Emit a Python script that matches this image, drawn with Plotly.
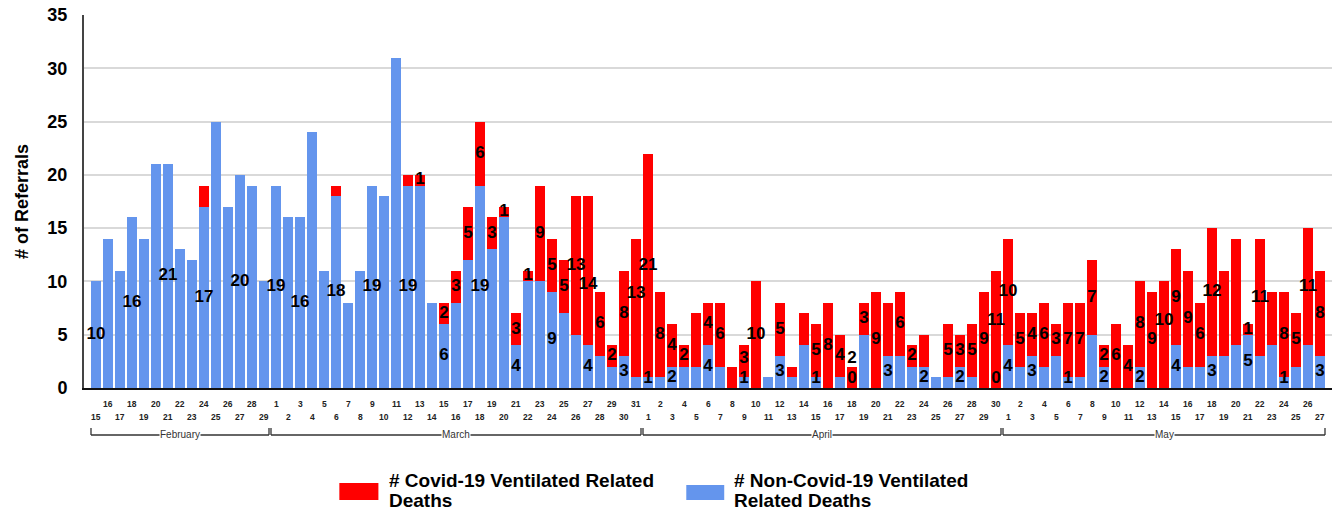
import plotly.graph_objects as go
import pandas as pd

# ---------------- data ----------------
start_date = "2020-02-15"
end_date = "2020-05-27"

feb_non = [10, 14, 11, 16, 14, 21, 21, 13, 12, 17, 25, 17, 20, 19, 10]
feb_cov = [0, 0, 0, 0, 0, 0, 0, 0, 0, 2, 0, 0, 0, 0, 0]
mar_non = [19, 16, 16, 24, 11, 18, 8, 11, 19, 18, 31, 19, 19, 8, 6, 8, 12, 19, 13, 16,
           4, 10, 10, 9, 7, 5, 4, 3, 2, 3, 1]
mar_cov = [0, 0, 0, 0, 0, 1, 0, 0, 0, 0, 0, 1, 1, 0, 2, 3, 5, 6, 3, 1,
           3, 1, 9, 5, 5, 13, 14, 6, 2, 8, 13]
apr_non = [1, 1, 2, 2, 2, 4, 2, 0, 1, 0, 1, 3, 1, 4, 1, 0, 1, 0, 5, 0,
           3, 3, 2, 2, 1, 1, 2, 1, 0, 0]
apr_cov = [21, 8, 4, 2, 5, 4, 6, 2, 3, 10, 0, 5, 1, 3, 5, 8, 4, 2, 3, 9,
           5, 6, 2, 3, 0, 5, 3, 5, 9, 11]
may_non = [4, 2, 3, 2, 3, 1, 1, 5, 2, 0, 0, 2, 0, 0, 4, 2, 2, 3, 3, 4,
           5, 3, 4, 1, 2, 4, 3]
may_cov = [10, 5, 4, 6, 3, 7, 7, 7, 2, 6, 4, 8, 9, 10, 9, 9, 6, 12, 8, 10,
           1, 11, 5, 8, 5, 11, 8]

non_covid = feb_non + mar_non + apr_non + may_non
covid = feb_cov + mar_cov + apr_cov + may_cov

# days whose segment carries a value label (month, day)
blue_label_days = [(2, 15), (2, 18), (2, 21), (2, 24), (2, 27),
                   (3, 1), (3, 3), (3, 6), (3, 9), (3, 12), (3, 15), (3, 18), (3, 21),
                   (3, 24), (3, 27), (3, 30),
                   (4, 1), (4, 3), (4, 6), (4, 9), (4, 12), (4, 15), (4, 18), (4, 21),
                   (4, 24), (4, 27), (4, 30),
                   (5, 1), (5, 3), (5, 6), (5, 9), (5, 12), (5, 15), (5, 18), (5, 21),
                   (5, 24), (5, 27)]
red_label_days = [(3, 13), (3, 15), (3, 16), (3, 17), (3, 18), (3, 19), (3, 20), (3, 21),
                  (3, 22), (3, 23), (3, 24), (3, 25), (3, 26), (3, 27), (3, 28), (3, 29),
                  (3, 30), (3, 31),
                  (4, 1), (4, 2), (4, 3), (4, 4), (4, 6), (4, 7), (4, 9), (4, 10), (4, 12),
                  (4, 15), (4, 16), (4, 17), (4, 18), (4, 19), (4, 20), (4, 22), (4, 23),
                  (4, 26), (4, 27), (4, 28), (4, 29), (4, 30),
                  (5, 1), (5, 2), (5, 3), (5, 4), (5, 5), (5, 6), (5, 7), (5, 8), (5, 9),
                  (5, 10), (5, 11), (5, 12), (5, 13), (5, 14), (5, 15), (5, 16), (5, 17),
                  (5, 18), (5, 21), (5, 22), (5, 24), (5, 25), (5, 26), (5, 27)]

month_names = {2: "February", 3: "March", 4: "April", 5: "May"}
name_covid = "# Covid-19 Ventilated Related Deaths"
name_non = "# Non-Covid-19 Ventilated Related Deaths"

# ---------------- figure ----------------
dates = pd.date_range(start_date, end_date, freq="D")
BLUE = "#6495ED"
RED = "#FF0000"
FONT = "Liberation Sans"

fig = go.Figure()
fig.add_trace(go.Bar(x=dates, y=non_covid, name=name_non, marker_color=BLUE,
                     marker_line_width=0, showlegend=False))
fig.add_trace(go.Bar(x=dates, y=covid, name=name_covid, marker_color=RED,
                     marker_line_width=0, showlegend=False))

# value labels: centred on their segment, nudged so they stay readable
MIN_LABEL_Y = 0.9
LABEL_GAP = 1.8
blue_set = set(blue_label_days)
red_set = set(red_label_days)
bx, by, bt, rx, ry, rt = [], [], [], [], [], []
prev_red = None  # (index, y, text)
for i, (d, nv, cv) in enumerate(zip(dates, non_covid, covid)):
    key = (d.month, d.day)
    blue_y = None
    if key in blue_set:
        blue_y = max(nv / 2, MIN_LABEL_Y)
        bx.append(d); by.append(blue_y); bt.append(str(nv))
    if key in red_set:
        red_y = nv + cv / 2
        if blue_y is not None:
            red_y = max(red_y, blue_y + LABEL_GAP)
        txt = str(cv)
        if prev_red is not None and prev_red[0] == i - 1 \
                and len(prev_red[2]) + len(txt) >= 3 and abs(red_y - prev_red[1]) < LABEL_GAP:
            red_y = prev_red[1] + (LABEL_GAP if red_y >= prev_red[1] else -LABEL_GAP)
        rx.append(d); ry.append(red_y); rt.append(txt)
        prev_red = (i, red_y, txt)

label_font = dict(family=FONT, size=17, color="black", weight="bold")
fig.add_trace(go.Scatter(x=bx, y=by, text=bt, mode="text", textfont=label_font,
                         textposition="middle center", hoverinfo="skip",
                         showlegend=False, cliponaxis=False))
fig.add_trace(go.Scatter(x=rx, y=ry, text=rt, mode="text", textfont=label_font,
                         textposition="middle center", hoverinfo="skip",
                         showlegend=False, cliponaxis=False))

annotations = []
shapes = []

# staggered day tick labels
for i, d in enumerate(dates):
    annotations.append(dict(x=d, y=0, xref="x", yref="paper", text=str(d.day),
                            showarrow=False, yanchor="middle",
                            yshift=-29 if i % 2 == 0 else -16,
                            font=dict(family=FONT, size=8.5, color="#222", weight="bold")))

# month brackets
half = pd.Timedelta(hours=12)
pad = pd.Timedelta(hours=2)
y_line = -0.126
y_tick = -0.107
for m in month_names:
    md = [d for d in dates if d.month == m]
    x0 = md[0] - half + pad
    x1 = md[-1] + half - pad
    line = dict(color="#333", width=1.3)
    shapes.append(dict(type="line", xref="x", yref="paper", x0=x0, x1=x1,
                       y0=y_line, y1=y_line, line=line))
    shapes.append(dict(type="line", xref="x", yref="paper", x0=x0, x1=x0,
                       y0=y_line, y1=y_tick, line=line))
    shapes.append(dict(type="line", xref="x", yref="paper", x0=x1, x1=x1,
                       y0=y_line, y1=y_tick, line=line))
    mid = md[0] + (md[-1] - md[0]) / 2
    annotations.append(dict(x=mid, y=y_line, xref="x", yref="paper",
                            text=month_names[m], showarrow=False, yanchor="middle",
                            bgcolor="white", borderpad=0,
                            font=dict(family=FONT, size=10, color="#333")))

# manual legend
legend_items = [
    (RED, (0.2046, 0.2359, -0.3003, -0.2547), 0.2431, "# Covid-19 Ventilated Related", "Deaths"),
    (BLUE, (0.4826, 0.5130, -0.3003, -0.2600), 0.5194, "# Non-Covid-19 Ventilated", "Related Deaths"),
]
leg_font = dict(family=FONT, size=19, color="black", weight="bold")
for color, (x0, x1, y0, y1), tx, line1, line2 in legend_items:
    shapes.append(dict(type="rect", xref="paper", yref="paper", x0=x0, x1=x1,
                       y0=y0, y1=y1, fillcolor=color, line=dict(width=0)))
    annotations.append(dict(x=tx, y=-0.2493, xref="paper", yref="paper", text=line1,
                            showarrow=False, xanchor="left", yanchor="middle", font=leg_font))
    annotations.append(dict(x=tx, y=-0.3029, xref="paper", yref="paper", text=line2,
                            showarrow=False, xanchor="left", yanchor="middle", font=leg_font))

fig.update_layout(
    width=1336, height=512,
    margin=dict(l=83.5, r=4, t=15, b=124),
    paper_bgcolor="white", plot_bgcolor="white",
    barmode="stack", bargap=0.19,
    showlegend=False,
    annotations=annotations, shapes=shapes,
    font=dict(family=FONT),
)
fig.update_xaxes(type="date",
                 range=[dates[0] - pd.Timedelta(days=1), dates[-1] + pd.Timedelta(days=1)],
                 showticklabels=False, ticks="", showgrid=False, zeroline=False,
                 showline=True, linecolor="#111", linewidth=2)
fig.update_yaxes(range=[0, 35], dtick=5, showgrid=True, gridcolor="#d9d9d9", gridwidth=1.5,
                 zeroline=False, showline=True, linecolor="#444", linewidth=2,
                 ticks="", ticklabelstandoff=11, automargin=False,
                 tickfont=dict(family=FONT, size=18, color="black", weight="bold"),
                 title=dict(text="# of Referrals", standoff=14,
                            font=dict(family=FONT, size=18, color="black", weight="bold")))

fig.write_html("out.html", config={"displayModeBar": False},
               post_script="document.body.style.margin='0px';")
